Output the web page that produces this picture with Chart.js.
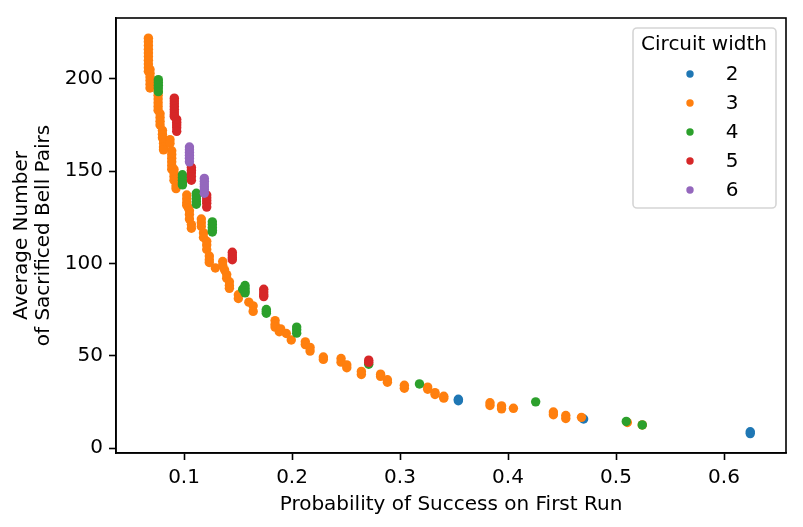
<!DOCTYPE html>
<html>
<head>
<meta charset="utf-8">
<style>
  html, body { margin: 0; padding: 0; background: #fff; }
  canvas { display: block; }
</style>
<script src="https://cdn.jsdelivr.net/npm/chart.js@4/dist/chart.umd.min.js"></script>
</head>
<body>
<canvas id="chart" width="803" height="527"></canvas>
<script>
const widths = ["2", "3", "4", "5", "6"];
const colors = ["#1f77b4", "#ff7f0e", "#2ca02c", "#d62728", "#9467bd"];
const xTicks = [0.1, 0.2, 0.3, 0.4, 0.5, 0.6];
const yTicks = [0, 50, 100, 150, 200];

// [probability of success, sacrificed bell pairs]
const width2 = [
  [0.354, 26.4], [0.354, 25.6], [0.470, 15.7],
  [0.6243, 8.8], [0.6243, 7.8]
];
const width3 = [
  [0.067, 222], [0.067, 220], [0.067, 218], [0.067, 216], [0.067, 214], [0.067, 212],
  [0.067, 210], [0.067, 208], [0.067, 206], [0.067, 204],
  [0.0685, 205], [0.0685, 203], [0.0685, 201], [0.0685, 199], [0.0685, 197], [0.0685, 195],
  [0.076, 193], [0.076, 191], [0.076, 189], [0.076, 187], [0.076, 185], [0.076, 183],
  [0.0778, 181], [0.0778, 179], [0.0778, 177], [0.0778, 175],
  [0.080, 172], [0.080, 170], [0.080, 168],
  [0.081, 167], [0.081, 165], [0.081, 163], [0.081, 161.5],
  [0.087, 167], [0.087, 165],
  [0.0886, 161], [0.0886, 159], [0.0886, 157], [0.0886, 155], [0.0886, 153], [0.0886, 151],
  [0.0907, 151], [0.0907, 149], [0.0907, 147], [0.0907, 145],
  [0.0926, 142], [0.0926, 140.5],
  [0.1025, 137], [0.1025, 135], [0.1025, 133], [0.1025, 131.5],
  [0.104, 130], [0.105, 128.5], [0.105, 126.5], [0.105, 124],
  [0.1068, 121], [0.1068, 119],
  [0.116, 124], [0.116, 122], [0.116, 120], [0.118, 116.5], [0.118, 114],
  [0.121, 112], [0.121, 110], [0.121, 107.5],
  [0.1234, 104], [0.1234, 102], [0.1234, 100.5],
  [0.129, 97.5], [0.1358, 101], [0.1358, 99], [0.1375, 96.5],
  [0.1395, 94], [0.1395, 92], [0.142, 90], [0.142, 88], [0.142, 86.5],
  [0.1503, 83], [0.1503, 81], [0.160, 79], [0.164, 77], [0.164, 74],
  [0.1843, 69], [0.1843, 67], [0.1843, 65.5], [0.1882, 63], [0.1895, 64.5],
  [0.1947, 62], [0.1993, 58.5],
  [0.2123, 57.5], [0.2123, 56], [0.2167, 54.5], [0.2167, 52.5],
  [0.229, 49.3], [0.229, 48], [0.2454, 48.5], [0.2454, 46.5], [0.2507, 45], [0.2507, 43.5],
  [0.2642, 41.5], [0.2642, 39.8], [0.282, 40], [0.282, 38.8], [0.2883, 37], [0.2883, 35.6],
  [0.304, 34], [0.304, 32.4], [0.3256, 33], [0.3256, 31.8], [0.3324, 30], [0.3324, 29],
  [0.3405, 28], [0.3405, 27], [0.3833, 24.5], [0.3833, 23], [0.394, 22.8], [0.394, 21.2],
  [0.405, 21.5], [0.442, 19.5], [0.442, 18], [0.4535, 17.6], [0.4535, 16],
  [0.468, 16.6], [0.5105, 13.8], [0.5243, 12.5]
];
const width4 = [
  [0.0762, 199.5], [0.0762, 198], [0.0762, 196.5], [0.0762, 195], [0.0762, 193],
  [0.0985, 148], [0.0985, 146.5], [0.0985, 145], [0.0985, 143.5], [0.0985, 142.5],
  [0.1114, 138], [0.1114, 136.5], [0.1114, 135], [0.1114, 133.5], [0.1114, 132],
  [0.1262, 122.5], [0.1262, 121], [0.1262, 119.5], [0.1262, 118], [0.1262, 117],
  [0.1543, 86], [0.1565, 88], [0.1565, 86.5], [0.1565, 85], [0.1565, 84],
  [0.1762, 75], [0.1762, 74], [0.1762, 73],
  [0.2043, 65.5], [0.2043, 64], [0.2043, 62.2],
  [0.271, 45.4], [0.3180, 34.7], [0.4256, 25],
  [0.5095, 14.4], [0.5243, 12.5]
];
const width5 = [
  [0.091, 189.5], [0.091, 188], [0.091, 186.5], [0.091, 185], [0.091, 183.5], [0.091, 182], [0.091, 180.5], [0.091, 179.5],
  [0.0932, 178], [0.0932, 176.5], [0.0932, 175], [0.0932, 173.5], [0.0932, 171.5],
  [0.1068, 152], [0.1068, 150.5], [0.1068, 149], [0.1068, 147], [0.1068, 145],
  [0.121, 137], [0.121, 135.5], [0.121, 134], [0.121, 132.5], [0.121, 130.5],
  [0.1447, 106], [0.1447, 104.5], [0.1447, 103], [0.1447, 102],
  [0.1738, 86], [0.1738, 84.5], [0.1738, 83], [0.1738, 82],
  [0.271, 47.6], [0.271, 46.4]
];
const width6 = [
  [0.105, 163], [0.105, 161.5], [0.105, 160], [0.105, 158.5], [0.105, 157], [0.105, 155],
  [0.1188, 146], [0.1188, 144.5], [0.1188, 143], [0.1188, 141.5], [0.1188, 140], [0.1188, 138]
];
const seriesValues = [width2, width3, width4, width5, width6];

// matplotlib look: closed frame and a legend box inside the axes
const framePlugin = {
  id: "frame",
  afterDraw(chart) {
    const ctx = chart.ctx;
    const area = chart.chartArea;
    ctx.save();
    ctx.strokeStyle = "#000";
    ctx.lineWidth = 1.6;
    ctx.strokeRect(area.left, area.top, area.right - area.left, area.bottom - area.top);

    ctx.beginPath();
    ctx.roundRect(633, 28, 143, 180, 4);
    ctx.fillStyle = "rgba(255,255,255,0.8)";
    ctx.fill();
    ctx.strokeStyle = "#d5d5d5";
    ctx.lineWidth = 1.6;
    ctx.stroke();

    ctx.fillStyle = "#000";
    ctx.font = "20px 'DejaVu Sans'";
    ctx.textBaseline = "middle";
    ctx.textAlign = "center";
    ctx.fillText("Circuit width", 704, 45);
    widths.forEach((w, i) => {
      const y = 74 + i * 29;
      ctx.beginPath();
      ctx.arc(690, y, 3.7, 0, Math.PI * 2);
      ctx.fillStyle = colors[i];
      ctx.fill();
      ctx.fillStyle = "#000";
      ctx.fillText(w, 732, y + 1);
    });
    ctx.restore();
  }
};

const font = { family: "'DejaVu Sans'", size: 20 };

new Chart(document.getElementById("chart"), {
  type: "scatter",
  data: {
    datasets: widths.map((w, i) => ({
      label: w,
      data: seriesValues[i].map(p => ({ x: p[0], y: p[1] })),
      backgroundColor: colors[i],
      borderColor: colors[i],
      borderWidth: 0,
      pointRadius: 4.7,
      order: widths.length - i
    }))
  },
  options: {
    responsive: false,
    animation: false,
    layout: { padding: { left: 0, right: 17, top: 18, bottom: 0 } },
    plugins: { legend: { display: false }, tooltip: { enabled: false } },
    scales: {
      x: {
        type: "linear",
        min: 0.037,
        max: 0.6574,
        afterBuildTicks: s => { s.ticks = xTicks.map(v => ({ value: v })); },
        afterFit: s => { s.height = 74; },
        grid: { drawOnChartArea: false, tickLength: 7, tickColor: "#000", tickWidth: 1.6 },
        border: { color: "#000", width: 1.6 },
        ticks: { color: "#000", font, padding: 6, maxRotation: 0, callback: v => v.toFixed(1) },
        title: { display: true, text: "Probability of Success on First Run", color: "#000", font, padding: { top: 0, bottom: 10 } }
      },
      y: {
        min: -2.7,
        max: 232.9,
        afterBuildTicks: s => { s.ticks = yTicks.map(v => ({ value: v })); },
        afterFit: s => { s.width = 116; },
        grid: { drawOnChartArea: false, tickLength: 7, tickColor: "#000", tickWidth: 1.6 },
        border: { color: "#000", width: 1.6 },
        ticks: { color: "#000", font, padding: 6 },
        title: { display: true, text: ["Average Number", "of Sacrificed Bell Pairs"], color: "#000", font: { ...font, lineHeight: 1.1 }, padding: { top: 11, bottom: 0 } }
      }
    }
  },
  plugins: [framePlugin]
});
</script>
</body>
</html>
